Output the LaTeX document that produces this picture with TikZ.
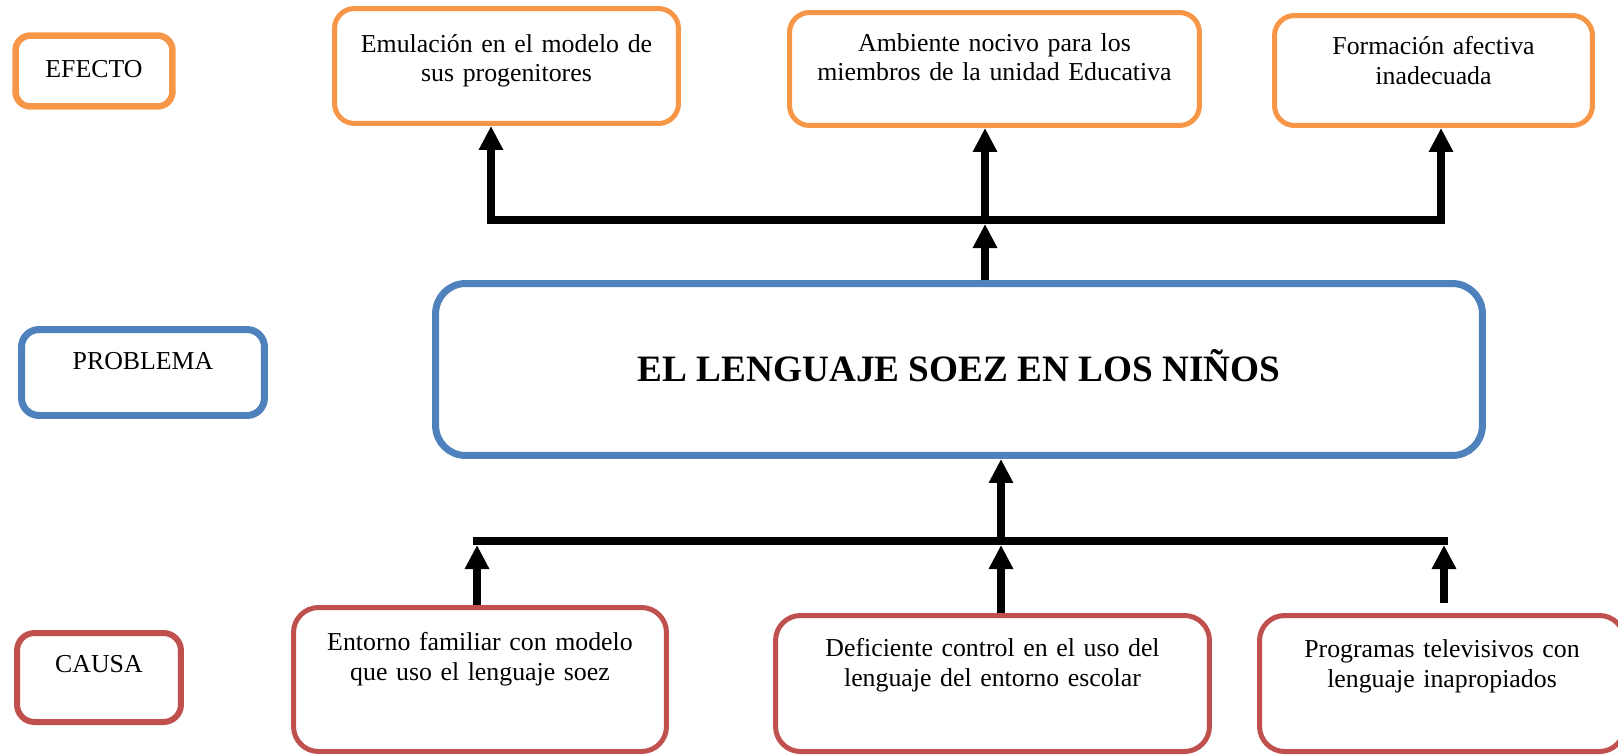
\documentclass[tikz,border=0pt]{standalone}
\usepackage{fontspec}
\setmainfont{Liberation Serif}
\usetikzlibrary{arrows.meta}
\definecolor{naranja}{HTML}{F79646}
\definecolor{azul}{HTML}{4F81BD}
\definecolor{rojo}{HTML}{C0504D}
\begin{document}
\begin{tikzpicture}[x=0.02cm,y=-0.02cm,>={Triangle[length=0.48cm,width=0.46cm]},
  caja/.style={draw,rounded corners=0.4cm,line width=0.1cm,align=center,inner sep=0.1cm,font=\fontsize{14.7}{17}\selectfont},
  link/.style={line width=0.16cm}]
\useasboundingbox (0,0) rectangle (1618,754);
% etiquetas de la izquierda
\node[caja,draw=naranja,line width=0.13cm,rounded corners=0.3cm,minimum width=3.14cm,minimum height=1.42cm,text width=2.7cm,text depth=2.6pt] (efecto) at (94,71) {EFECTO};
\node[caja,draw=azul,line width=0.14cm,rounded corners=0.35cm,minimum width=4.86cm,minimum height=1.72cm,text width=4.4cm,text depth=12.6pt] (problema) at (143,372.5) {PROBLEMA};
\node[caja,draw=rojo,line width=0.12cm,rounded corners=0.35cm,minimum width=3.28cm,minimum height=1.78cm,text width=2.9cm,text depth=15.2pt] (causa) at (99,677.5) {CAUSA};
% efectos
\node[caja,draw=naranja,minimum width=6.88cm,minimum height=2.3cm,text width=6.4cm,text depth=26.1pt] (emul) at (506.5,66) {Emulación en el modelo de\\sus progenitores};
\node[caja,draw=naranja,minimum width=8.2cm,minimum height=2.26cm,text width=7.7cm,text depth=30.6pt] (ambi) at (994.5,69) {Ambiente nocivo para los\\miembros de la unidad Educativa};
\node[caja,draw=naranja,minimum width=6.36cm,minimum height=2.2cm,text width=5.9cm,text depth=28.3pt] (form) at (1433.5,70.5) {Formación afectiva\\inadecuada};
% problema central
\node[caja,draw=azul,line width=0.14cm,rounded corners=0.6cm,minimum width=20.94cm,minimum height=3.44cm,font=\bfseries\fontsize{21.2}{25}\selectfont,text height=14pt,text depth=0pt] (main) at (959,369.5) {EL LENGUAJE SOEZ EN LOS NIÑOS};
% causas
\node[caja,draw=rojo,rounded corners=0.5cm,minimum width=7.46cm,minimum height=2.88cm,text width=7cm,text depth=43.4pt] (entorno) at (480,679.5) {Entorno familiar con modelo\\que uso el lenguaje soez};
\node[caja,draw=rojo,rounded corners=0.5cm,minimum width=8.68cm,minimum height=2.72cm,text width=8.2cm,text depth=41.1pt] (defic) at (992.5,683.5) {Deficiente control en el uso del\\lenguaje del entorno escolar};
\node[caja,draw=rojo,rounded corners=0.5cm,minimum width=7.3cm,minimum height=2.72cm,text width=6.8cm,text depth=39.9pt] (progr) at (1442,683.5) {Programas televisivos con\\lenguaje inapropiados};
% flechas de arriba
\coordinate (tl) at (491,220); \coordinate (tm) at (985,220); \coordinate (tr) at (1441,220);
\draw[link,<->] (tl |- emul.south) -- (tl) -- (tr) -- (tr |- form.south);
\draw[link,->,shorten >=0.08cm] (tm |- main.north) -- (tm);
\draw[link,->] (tm) -- (tm |- ambi.south);
% flechas de abajo
\coordinate (bl) at (477,541); \coordinate (bm) at (1001,541); \coordinate (br) at (1444,541);
\coordinate (pr) at (1444,603);
\draw[link] ([xshift=-0.08cm]bl) -- ([xshift=0.08cm]br);
\draw[link,->] (bm) -- (bm |- main.south);
\path[link,->,shorten >=0.08cm] (entorno.north -| bl) edge (bl) (defic.north -| bm) edge (bm) (pr) edge (br);
\end{tikzpicture}
\end{document}
